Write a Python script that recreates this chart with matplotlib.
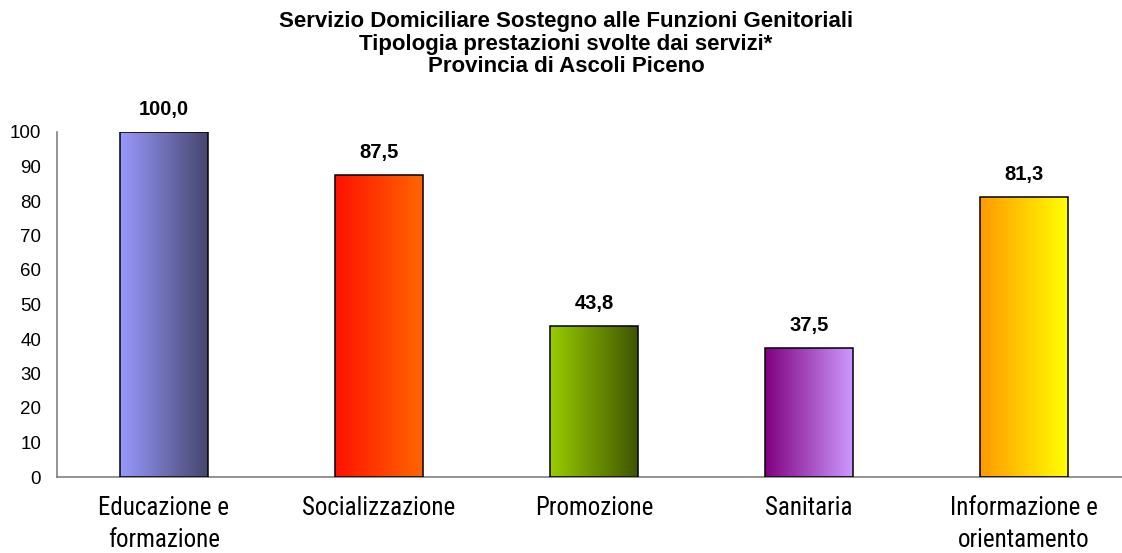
import matplotlib
matplotlib.use("Agg")
import matplotlib.pyplot as plt
import numpy as np
from matplotlib.colors import LinearSegmentedColormap
from matplotlib import font_manager
from matplotlib.font_manager import FontProperties

categories = ["Educazione e\nformazione", "Socializzazione", "Promozione", "Sanitaria", "Informazione e\norientamento"]
values = [100.0, 87.5, 43.8, 37.5, 81.3]
value_labels = ["100,0", "87,5", "43,8", "37,5", "81,3"]
grad_left = ["#9999FF", "#FF1100", "#99CC00", "#800080", "#FF9900"]
grad_right = ["#46466E", "#FF6600", "#3F5500", "#CC99FF", "#FFFF00"]
yticks = [0, 10, 20, 30, 40, 50, 60, 70, 80, 90, 100]
title_lines = ["Servizio Domiciliare Sostegno alle Funzioni Genitoriali",
               "Tipologia prestazioni svolte dai servizi*",
               "Provincia di Ascoli Piceno"]

ttf = font_manager.fontManager.ttflist
names = {f.name for f in ttf}
base = "Liberation Sans" if "Liberation Sans" in names else "DejaVu Sans"
plt.rcParams["font.family"] = [base, "DejaVu Sans"]

narrow_file = None
cands = [f for f in ttf if ("Narrow" in f.name or "Condensed" in f.name or
                            f.stretch in ("condensed", "semi-condensed", "extra-condensed"))
         and f.style == "normal" and f.weight in (400, "normal", "regular", "book")]
pref = ["Liberation Sans Narrow", "Arial Narrow", "DejaVu Sans Condensed", "Roboto Condensed"]
for p in pref:
    for f in cands:
        if f.name == p and narrow_file is None:
            narrow_file = f.fname
if narrow_file is None:
    for f in cands:
        if "Sans" in f.name and "Mono" not in f.name and "Serif" not in f.fname:
            narrow_file = f.fname
            break
if narrow_file is not None:
    cat_fp = FontProperties(fname=narrow_file, size=18)
else:
    cat_fp = FontProperties(family=[base], size=14.5)

fig = plt.figure(figsize=(11.22, 5.53), dpi=100)
ax = fig.add_axes([56.5 / 1122, 76 / 553, 1075 / 1122, 345 / 553])

x = np.arange(len(values))
bw = 0.405
bars = ax.bar(x, values, width=bw, color="none", edgecolor="black", linewidth=1.1, zorder=3)

for i, b in enumerate(bars):
    cmap = LinearSegmentedColormap.from_list("g%d" % i, [grad_left[i], grad_right[i]])
    grad = np.linspace(0, 1, 256).reshape(1, -1)
    bx = b.get_x()
    im = ax.imshow(grad, cmap=cmap, aspect="auto", extent=[bx, bx + b.get_width(), 0, b.get_height()],
                   zorder=2, interpolation="bilinear")
    im.set_clip_path(b)
    ax.annotate(value_labels[i], (x[i], values[i]), xytext=(0, 16), textcoords="offset points",
                ha="center", va="center", fontsize=14.5, fontweight="bold")

ax.set_xlim(-0.5, len(values) - 0.5)
ax.set_ylim(0, 100)
ax.set_yticks(yticks)
ax.set_yticklabels([str(t) for t in yticks], fontsize=13.5)
ax.set_xticks(x)
ax.set_xticklabels(categories, fontproperties=cat_fp, linespacing=1.4)
ax.tick_params(axis="y", length=0, pad=11)
ax.tick_params(axis="x", length=0, pad=14)

for s in ["top", "right"]:
    ax.spines[s].set_visible(False)
for s in ["left", "bottom"]:
    ax.spines[s].set_color("#808080")
    ax.spines[s].set_linewidth(1.2)

for k, line in enumerate(title_lines):
    fig.text(566 / 1122, 1 - (22 + 22.5 * k) / 553, line, ha="center", va="center",
             fontsize=16, fontweight="bold")

fig.savefig("out.png", dpi=100)
